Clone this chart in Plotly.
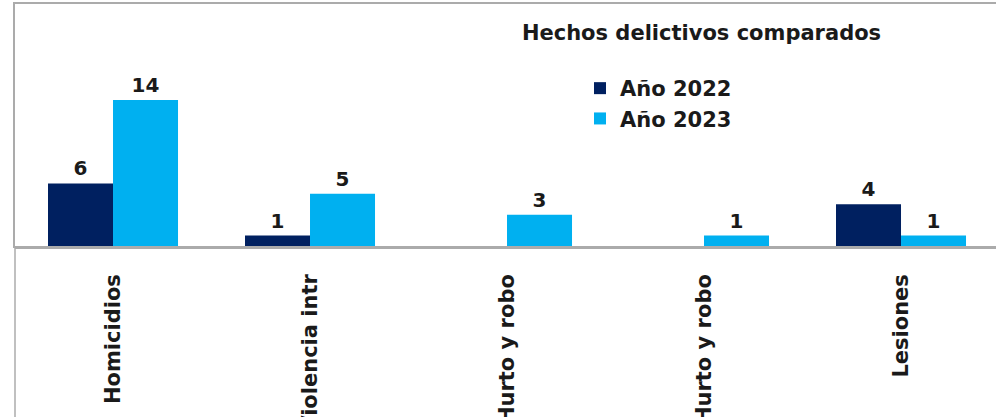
import plotly.graph_objects as go

categories = ["Homicidios", "Violencia intr", "Hurto y robo", "Hurto y robo", "Lesiones"]
series_names = ["Año 2022", "Año 2023"]
values_2022 = [6, 1, None, None, 4]
values_2023 = [14, 5, 3, 1, 1]
title_text = "Hechos delictivos comparados"

dark = "#002060"
light = "#00B0F0"
gray = "#ABABAB"

x_pos = list(range(len(categories)))

fig = go.Figure()
for name, vals, col in [(series_names[0], values_2022, dark), (series_names[1], values_2023, light)]:
    fig.add_trace(go.Bar(
        x=x_pos, y=vals, name=name, marker=dict(color=col, line=dict(width=0)),
        text=[("" if v is None else str(v)) for v in vals],
        textposition="outside", cliponaxis=False,
        textfont=dict(family="DejaVu Sans", size=20, color="#1a1a1a", weight="bold"),
        hoverinfo="skip",
    ))

W, H = 996, 417
ml, mt, mb = 15, 4, 171
plot_w = W - ml
plot_h = H - mt - mb

fig.update_layout(
    width=W, height=H,
    margin=dict(l=ml, r=0, t=mt, b=mb, autoexpand=False),
    paper_bgcolor="white", plot_bgcolor="white",
    barmode="group", bargap=0.34, bargroupgap=0,
    font=dict(family="DejaVu Sans", color="#1a1a1a"),
    title=dict(text="<b>" + title_text + "</b>", x=701.5 / W, xanchor="center",
               y=1 - 33 / H, yanchor="middle", xref="container", yref="container",
               font=dict(family="DejaVu Sans", size=21, color="#1a1a1a")),
    legend=dict(x=(580 - ml) / plot_w, xanchor="left", y=(246 - 68) / plot_h, yanchor="top",
                font=dict(family="DejaVu Sans", size=21, color="#1a1a1a", weight="bold"),
                bgcolor="rgba(0,0,0,0)", borderwidth=0, tracegroupgap=0),
    xaxis=dict(range=[-0.4975, -0.4975 + plot_w / 197.0], tickmode="array", tickvals=x_pos,
               ticktext=categories, tickangle=-90, showgrid=False, zeroline=False,
               showline=True, mirror=True, linecolor=gray, linewidth=1.5, ticks="",
               ticklabelstandoff=18,
               tickfont=dict(family="DejaVu Sans", size=21, color="#1a1a1a", weight="bold"),
               automargin=False, fixedrange=True),
    yaxis=dict(range=[0, plot_h / (146 / 14.0)], showgrid=False, zeroline=False,
               showticklabels=False, showline=True, mirror=False, linecolor=gray,
               linewidth=1.5, ticks="", automargin=False, fixedrange=True),
    showlegend=True,
)

# lower frame of the category label area
fig.add_shape(type="line", xref="paper", yref="paper", x0=0, x1=1, y0=-2.2 / plot_h, y1=-2.2 / plot_h,
              line=dict(color=gray, width=1.5))
fig.add_shape(type="line", xref="paper", yref="paper", x0=0, x1=0, y0=0, y1=-mb / plot_h - 0.05,
              line=dict(color=gray, width=1.5))

fig.write_html("out.html", config={"displayModeBar": False},
               post_script="document.body.style.margin='0';document.body.style.overflow='hidden';")
